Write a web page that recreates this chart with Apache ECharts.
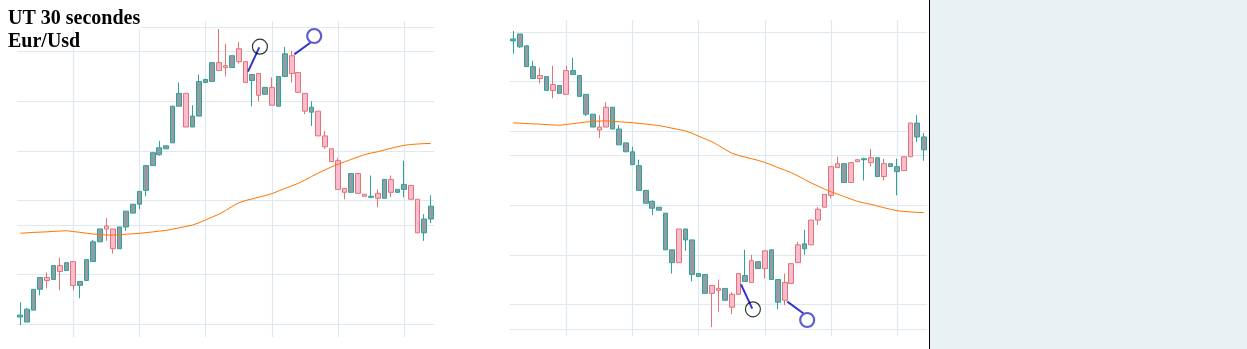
<!DOCTYPE html>
<html>
<head>
<meta charset="utf-8">
<script src="https://cdn.jsdelivr.net/npm/echarts@6/dist/echarts.min.js"></script>
<style>
html,body{margin:0;padding:0;background:#fff;}
#chart{width:1247px;height:349px;}
</style>
</head>
<body>
<div id="chart"></div>
<script>
// ---- data (EUR/USD, 30 s candles) ----
const opens  = [1.08507,1.08502,1.08514,1.08535,1.08547,1.08545,1.08559,1.08554,1.08563,1.08539,
                1.08544,1.08563,1.08583,1.08599,1.08596,1.08576,1.08598,1.08612,1.08621,1.08635,
                1.08660,1.08671,1.08677,1.08683,1.08720,1.08733,1.08699,1.08710,1.08744,1.08745,
                1.08764,1.08761,1.08759,1.08778,1.08765,1.08746,1.08753,1.08732,1.08739,1.08720,
                1.08750,1.08771,1.08754,1.08733,1.08714,1.08715,1.08690,1.08677,1.08665,1.08637,
                1.08633,1.08652,1.08631,1.08628,1.08632,1.08627,1.08646,1.08633,1.08636,1.08640,
                1.08626,1.08592,1.08606];
const closes = [1.08509,1.08515,1.08535,1.08547,1.08544,1.08559,1.08553,1.08562,1.08539,1.08543,
                1.08565,1.08583,1.08596,1.08596,1.08576,1.08598,1.08614,1.08621,1.08634,1.08660,
                1.08673,1.08678,1.08680,1.08720,1.08733,1.08699,1.08710,1.08745,1.08747,1.08764,
                1.08756,1.08759,1.08771,1.08765,1.08744,1.08752,1.08731,1.08739,1.08721,1.08750,
                1.08773,1.08753,1.08734,1.08715,1.08719,1.08690,1.08679,1.08664,1.08636,1.08633,
                1.08652,1.08632,1.08629,1.08629,1.08627,1.08646,1.08633,1.08636,1.08641,1.08626,
                1.08592,1.08606,1.08619];
const lows   = [1.08499,1.08502,1.08514,1.08529,1.08536,1.08545,1.08534,1.08554,1.08534,1.08526,
                1.08544,1.08563,1.08583,1.08584,1.08571,1.08576,1.08594,1.08612,1.08616,1.08629,
                1.08660,1.08670,1.08677,1.08683,1.08720,1.08699,1.08699,1.08710,1.08744,1.08745,
                1.08756,1.08750,1.08759,1.08763,1.08744,1.08720,1.08725,1.08732,1.08721,1.08720,
                1.08750,1.08744,1.08734,1.08712,1.08700,1.08690,1.08677,1.08664,1.08636,1.08626,
                1.08633,1.08632,1.08629,1.08627,1.08618,1.08627,1.08628,1.08633,1.08628,1.08626,
                1.08592,1.08584,1.08602];
const highs  = [1.08522,1.08516,1.08535,1.08547,1.08552,1.08559,1.08567,1.08562,1.08563,1.08543,
                1.08565,1.08585,1.08596,1.08607,1.08596,1.08598,1.08614,1.08621,1.08634,1.08660,
                1.08673,1.08685,1.08680,1.08720,1.08744,1.08733,1.08721,1.08752,1.08747,1.08764,
                1.08798,1.08783,1.08771,1.08785,1.08765,1.08752,1.08753,1.08739,1.08749,1.08750,
                1.08780,1.08776,1.08754,1.08733,1.08725,1.08715,1.08695,1.08677,1.08668,1.08637,
                1.08652,1.08652,1.08631,1.08650,1.08636,1.08646,1.08650,1.08636,1.08665,1.08640,
                1.08626,1.08611,1.08630];
const movingAvg = [1.085917,1.085921,1.085925,1.085928,1.085931,1.085935,1.085939,1.085942,1.085934,1.085926,
                   1.085917,1.085909,1.085904,1.085899,1.085898,1.085902,1.085907,1.085911,1.085916,1.085923,
                   1.085930,1.085938,1.085945,1.085958,1.085972,1.085985,1.085999,1.086023,1.086052,1.086081,
                   1.086108,1.086146,1.086187,1.086224,1.086247,1.086263,1.086280,1.086297,1.086317,1.086343,
                   1.086370,1.086395,1.086421,1.086454,1.086490,1.086525,1.086556,1.086586,1.086614,1.086638,
                   1.086663,1.086687,1.086711,1.086727,1.086740,1.086758,1.086775,1.086791,1.086805,1.086813,
                   1.086818,1.086822,1.086824];
// price levels of the horizontal guide lines, candle indexes of the vertical ones
const priceLevels = [1.08500,1.08550,1.08600,1.08625,1.08675,1.08725,1.08775,1.08800];
const timeMarks   = [8,18,28,38,48,58];
// hand-drawn annotations: [candle index, price]
const annotCircles = [[36.2,1.087801],[44.4,1.087909]];
const annotLines   = [[[34.4,1.087549],[36.1,1.087795]],[[41.4,1.087724],[43.8,1.087841]]];

const GRID_C = '#dfe8ef';
const UP_FILL = '#989aa3', UP_EDGE = '#26a69a', DN_FILL = '#f8bbd0', DN_EDGE = '#e57373';
const BLUE = '#3434c8';

const rows = opens.map((o,i)=>[i,o,closes[i],lows[i],highs[i]]);
const maRows = movingAvg.map((v,i)=>[i,v]);

function panelSeries(g){
  return [
    {
      type:'candlestick', xAxisIndex:g, yAxisIndex:g,
      data: rows, encode:{x:0,y:[1,2,3,4]},
      barWidth:5.2,
      itemStyle:{color:UP_FILL,color0:DN_FILL,borderColor:UP_EDGE,borderColor0:DN_EDGE,borderWidth:1},
      markLine:{
        silent:true, z:1, symbol:'none', animation:false, precision:8,
        label:{show:false},
        lineStyle:{color:GRID_C,width:1.2,type:'solid'},
        emphasis:{disabled:true},
        data:[...priceLevels.map(v=>({yAxis:v})), ...timeMarks.map(v=>({xAxis:v}))]
      }
    },
    {
      type:'line', xAxisIndex:g, yAxisIndex:g, data:maRows,
      showSymbol:false, symbol:'none', smooth:false, z:3,
      lineStyle:{color:'#ff7500',width:1}
    },
    {
      type:'lines', coordinateSystem:'cartesian2d', xAxisIndex:g, yAxisIndex:g, z:4,
      data: annotLines.map(c=>({coords:c})),
      lineStyle:{color:BLUE,width:2,opacity:1}
    },
    {
      type:'scatter', xAxisIndex:g, yAxisIndex:g, z:4,
      data:[
        {value:annotCircles[0], symbolSize:15, itemStyle:{color:'rgba(0,0,0,0)',borderColor:'#000',borderWidth:1.2}},
        {value:annotCircles[1], symbolSize:14, itemStyle:{color:'rgba(0,0,0,0)',borderColor:BLUE,borderWidth:2.2}}
      ]
    }
  ];
}

const titleFont = {fontFamily:'Liberation Serif',fontWeight:'bold',fontSize:20,lineHeight:18,color:'#000'};
const option = {
  animation:false,
  backgroundColor:'#fff',
  title:[
    {text:'UT 30 secondes',left:0,top:0,padding:[10,1,0,8],backgroundColor:'#fff',textStyle:titleFont},
    {text:'Eur/Usd',left:0,top:33,padding:[0,0,0,8],textStyle:titleFont}
  ],
  graphic:[
    {type:'rect',shape:{x:930,y:0,width:317,height:349},style:{fill:'#e9f1f5'},silent:true},
    {type:'rect',shape:{x:929,y:0,width:1,height:349},style:{fill:'#000'},silent:true}
  ],
  grid:[
    {left:17,top:21,width:417,height:316},
    {left:510,top:20,width:417,height:316}
  ],
  xAxis:[
    {type:'value',gridIndex:0,min:-0.5,max:62.5,show:false},
    {type:'value',gridIndex:1,min:-0.5,max:62.5,show:false}
  ],
  yAxis:[
    {type:'value',gridIndex:0,min:1.0848687,max:1.0880606,show:false,scale:true},
    {type:'value',gridIndex:1,min:1.0848788,max:1.0880707,inverse:true,show:false,scale:true}
  ],
  series:[...panelSeries(0), ...panelSeries(1)]
};
const chart = echarts.init(document.getElementById('chart'));
chart.setOption(option);
</script>
</body>
</html>
